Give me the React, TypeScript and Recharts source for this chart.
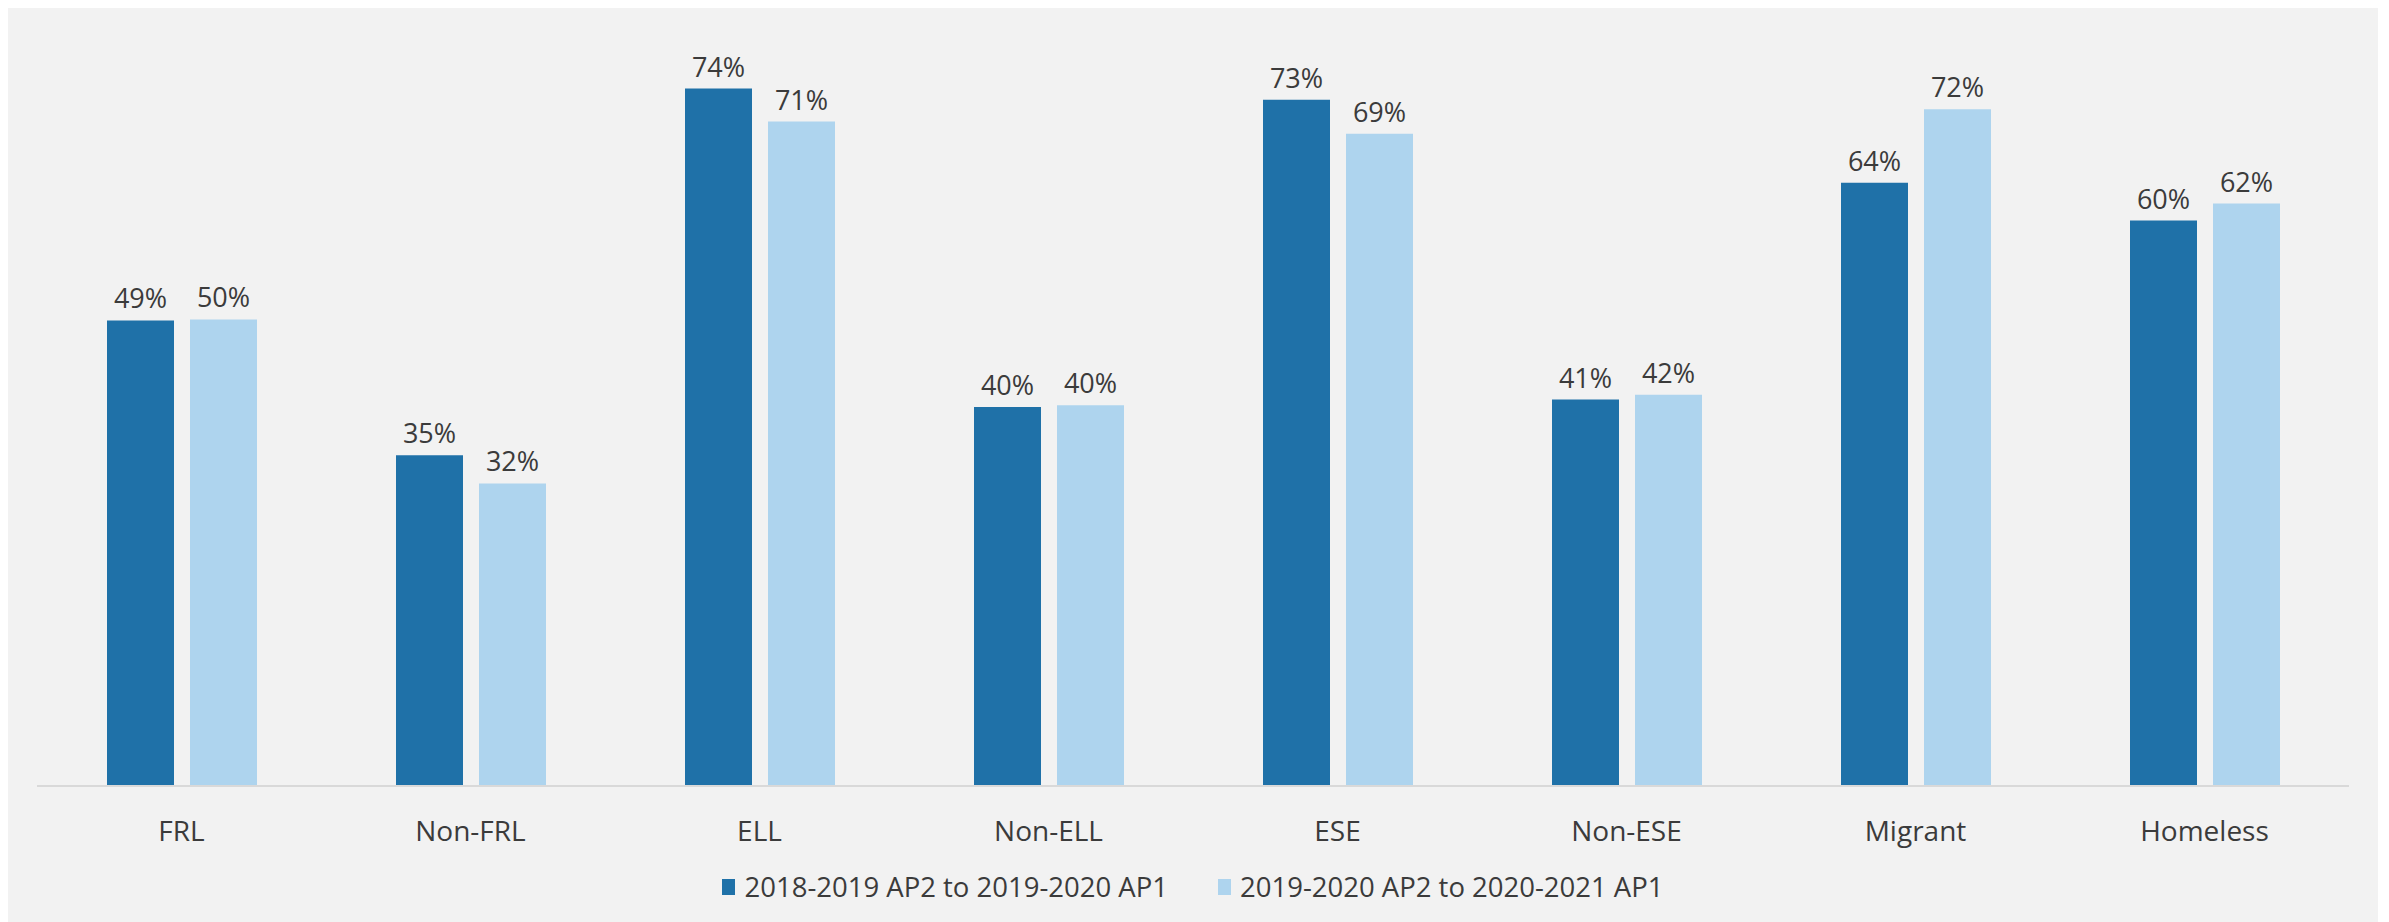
import React from 'react';
import { BarChart, Bar, XAxis, YAxis, LabelList, Legend } from 'recharts';

const categories = ['FRL', 'Non-FRL', 'ELL', 'Non-ELL', 'ESE', 'Non-ESE', 'Migrant', 'Homeless'];
const period1 = [49.4, 35.1, 74.0, 40.2, 72.8, 41.0, 64.0, 60.0];
const period2 = [49.5, 32.1, 70.5, 40.4, 69.2, 41.5, 71.8, 61.8];
const seriesNames = ['2018-2019 AP2 to 2019-2020 AP1', '2019-2020 AP2 to 2020-2021 AP1'];

const DARK = '#1f71a8';
const LIGHT = '#aed4ee';
const TEXT = '#3b3b3b';
const FONT = '"Open Sans", "Noto Sans", sans-serif';

const data = categories.map((name, i) => ({ name, p1: period1[i], p2: period2[i] }));

const pct = (v: number) => `${Math.round(v)}%`;

function ChartLegend() {
  const items = [
    { name: seriesNames[0], color: DARK },
    { name: seriesNames[1], color: LIGHT },
  ];
  return (
    <div style={{ display: 'flex', justifyContent: 'center', alignItems: 'center', gap: 50, paddingTop: 12, fontFamily: FONT, fontSize: 27.5, color: TEXT }}>
      {items.map((it) => (
        <div key={it.name} style={{ display: 'flex', alignItems: 'center' }}>
          <span style={{ display: 'inline-block', width: 13, height: 16, background: it.color, marginRight: 9 }} />
          <span>{it.name}</span>
        </div>
      ))}
    </div>
  );
}

export default function App() {
  return (
    <div style={{ width: 2370, height: 916, background: '#f2f2f2', marginTop: -2 }}>
      <BarChart
        width={2370}
        height={916}
        data={data}
        margin={{ top: 26, right: 29, left: 29, bottom: 0 }}
        barSize={67}
        barGap={16}
      >
        <XAxis
          dataKey="name"
          height={70}
          tickLine={false}
          tickSize={0}
          tickMargin={35}
          axisLine={{ stroke: '#d9d9d9', strokeWidth: 2 }}
          tick={{ fill: TEXT, fontSize: 28, fontFamily: FONT }}
          interval={0}
        />
        <YAxis hide domain={[0, 80]} />
        <Legend verticalAlign="bottom" height={66} content={<ChartLegend />} />
        <Bar dataKey="p1" name={seriesNames[0]} fill={DARK} isAnimationActive={false}>
          <LabelList
            dataKey="p1"
            position="top"
            offset={12}
            formatter={pct}
            style={{ fill: TEXT, fontSize: 27, fontFamily: FONT }}
          />
        </Bar>
        <Bar dataKey="p2" name={seriesNames[1]} fill={LIGHT} isAnimationActive={false}>
          <LabelList
            dataKey="p2"
            position="top"
            offset={12}
            formatter={pct}
            style={{ fill: TEXT, fontSize: 27, fontFamily: FONT }}
          />
        </Bar>
      </BarChart>
    </div>
  );
}
